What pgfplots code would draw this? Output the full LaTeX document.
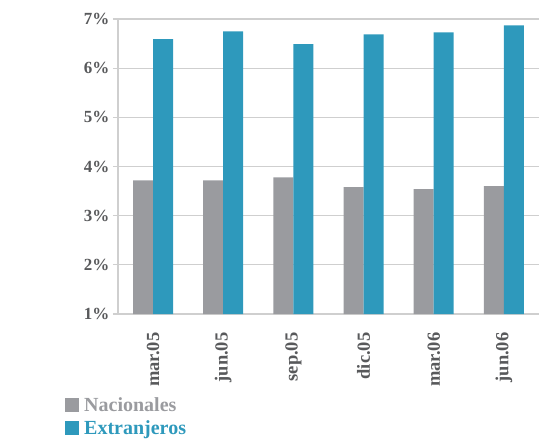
\documentclass[border=0pt]{standalone}
\usepackage{pgfplots}
\pgfplotsset{compat=1.18}
\usepackage{fontspec}
\setmainfont{Liberation Serif}
\definecolor{grayb}{HTML}{9A9B9F}
\definecolor{tealb}{HTML}{2E99BC}
\definecolor{ticktext}{HTML}{58595B}
\definecolor{gridc}{HTML}{CFCFCF}
\begin{document}
\begin{tikzpicture}
\path[use as bounding box] (0,0) rectangle (539pt,-439pt);
\begin{axis}[
  at={(118pt,-314pt)}, anchor=south west,
  width=421pt, height=295pt, scale only axis,
  ybar=0pt, bar width=20pt,
  xmin=-0.5, xmax=5.5, ymin=1, ymax=7,
  xtick={0,1,2,3,4,5},
  xticklabels={mar.05,jun.05,sep.05,dic.05,mar.06,jun.06},
  ytick={1,2,3,4,5,6,7},
  yticklabels={1\%,2\%,3\%,4\%,5\%,6\%,7\%},
  x tick label style={rotate=90, anchor=east, font=\bfseries\fontsize{18.5}{22}\selectfont, text=ticktext, xshift=-10pt},
  y tick label style={font=\bfseries\fontsize{17}{20}\selectfont, text=ticktext},
  axis x line*=bottom, axis y line*=left,
  axis line style={gridc, line width=1.5pt, -},
  ymajorgrids, major grid style={gridc, line width=1.2pt},
  tick align=outside, major tick length=5pt,
  xtick style={draw=none},
  ytick style={gridc, line width=1.2pt},
  legend style={at={(rel axis cs:0,0)}, anchor=north west, xshift=-53pt, yshift=-81pt,
    draw=none, fill=none, font=\bfseries\fontsize{20}{24}\selectfont, row sep=4pt, inner sep=0pt},
  legend cell align=left,
  legend image code/.code={\fill[#1] (0pt,-7pt) rectangle (14pt,7pt);},
]
\addplot[fill=grayb, draw=none] coordinates {(0,3.72) (1,3.72) (2,3.78) (3,3.58) (4,3.54) (5,3.60)};
\addplot[fill=tealb, draw=none] coordinates {(0,6.59) (1,6.75) (2,6.49) (3,6.69) (4,6.73) (5,6.87)};
\legend{\hspace{3pt}\textcolor{grayb}{Nacionales},\hspace{3pt}\textcolor{tealb}{Extranjeros}}
\end{axis}
\end{tikzpicture}
\end{document}
